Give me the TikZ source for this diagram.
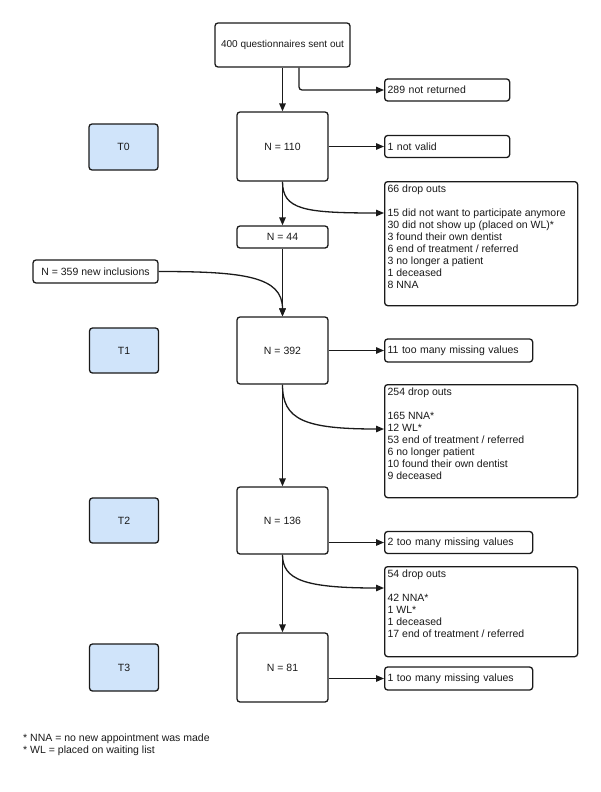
\documentclass[tikz,border=0pt]{standalone}
\usepackage{fontspec}
\setmainfont{Liberation Sans}
\usetikzlibrary{arrows.meta}
\definecolor{tblue}{HTML}{D0E4FA}
\definecolor{lc}{HTML}{1A1A1A}
\begin{document}
\begin{tikzpicture}[x=1pt,y=-1pt,
  font=\fontsize{10.5}{12}\selectfont, text=lc,
  box/.style={draw=lc, line width=1.3pt, rounded corners=3pt, fill=white, inner sep=3pt, minimum height=22pt},
  cbox/.style={box, align=center},
  lbox/.style={box, align=left},
  tbox/.style={box, fill=tblue, minimum width=69pt, minimum height=46pt},
  arr/.style={draw=lc, line width=1.3pt, -{Triangle[length=8pt,width=6.5pt]}}]
\useasboundingbox (0,0) rectangle (600,792);

\node[cbox, minimum width=135pt, minimum height=44pt, font=\fontsize{10}{12}\selectfont] (q) at (282.5,45) {400 questionnaires sent out};
\node[lbox, text width=119pt, anchor=west] (nr) at (384,90) {289 not returned};
\node[cbox, minimum width=91pt, minimum height=69pt] (n110) at (282.5,146.5) {N = 110};
\node[lbox, text width=119pt, anchor=west] (nv) at (384,146.5) {1 not valid};
\node[tbox] (t0) at (123.5,147) {T0};
\node[box, anchor=north west] (d66) at (384,181) {\parbox[t][118pt][t]{187pt}{66 drop outs\\[12pt]15 did not want to participate anymore\\30 did not show up (placed on WL)*\\3 found their own dentist\\6 end of treatment / referred\\3 no longer a patient\\1 deceased\\8 NNA}};
\node[cbox, minimum width=91pt] (n44) at (282.5,237) {N = 44};
\node[cbox, minimum width=125pt, minimum height=23pt] (inc) at (95.5,271.5) {N = 359 new inclusions};
\node[cbox, minimum width=91pt, minimum height=67pt] (n392) at (282.5,350.5) {N = 392};
\node[tbox, minimum height=45pt] (t1) at (124,350.5) {T1};
\node[lbox, text width=142pt, anchor=west, minimum height=23pt] (m11) at (384,350.5) {11 too many missing values};
\node[box, anchor=north west] (d254) at (384,384) {\parbox[t][107pt][t]{187pt}{254 drop outs\\[12pt]165 NNA*\\12 WL*\\53 end of treatment / referred\\6 no longer patient\\10 found their own dentist\\9 deceased}};
\node[cbox, minimum width=91pt, minimum height=67pt] (n136) at (282.5,520.5) {N = 136};
\node[tbox, minimum height=45pt] (t2) at (124,520.5) {T2};
\node[lbox, text width=142pt, anchor=west] (m2) at (384,542.5) {2 too many missing values};
\node[box, anchor=north west] (d54) at (384,566) {\parbox[t][84pt][t]{187pt}{54 drop outs\\[12pt]42 NNA*\\1 WL*\\1 deceased\\17 end of treatment / referred}};
\node[cbox, minimum width=91pt, minimum height=69pt] (n81) at (282.5,667.5) {N = 81};
\node[tbox, minimum height=47pt] (t3) at (124,667.5) {T3};
\node[lbox, text width=142pt, anchor=west, minimum height=23pt] (m1) at (384,678.5) {1 too many missing values};
\node[anchor=north west, align=left, inner sep=0pt] (fn) at (23,734) {* NNA = no new appointment was made\\* WL = placed on waiting list};

\draw[arr] (q) -- (n110);
\draw[arr, rounded corners=3pt] ([xshift=16.5pt]q.south) |- (nr.west);
\draw[arr] (n110) -- (nv);
\draw[arr] (n110.south) .. controls +(0,28) and +(-80,0) .. ([yshift=-32pt]d66.north west);
\draw[arr] (n110) -- (n44);
\draw[arr] (n44) -- (n392);
\draw[arr] (inc.east) .. controls +(85,0) and +(0,-40) .. (n392.north);
\draw[arr] (n392) -- (m11);
\draw[arr] (n392.south) .. controls +(0,35) and +(-80,0) .. ([yshift=-45pt]d254.north west);
\draw[arr] (n392) -- (n136);
\draw[arr] (m2.west -| n136.east) -- (m2.west);
\draw[arr] (n136.south) .. controls +(0,25) and +(-80,0) .. ([yshift=-22pt]d54.north west);
\draw[arr] (n136) -- (n81);
\draw[arr] (m1.west -| n81.east) -- (m1.west);
\end{tikzpicture}
\end{document}
